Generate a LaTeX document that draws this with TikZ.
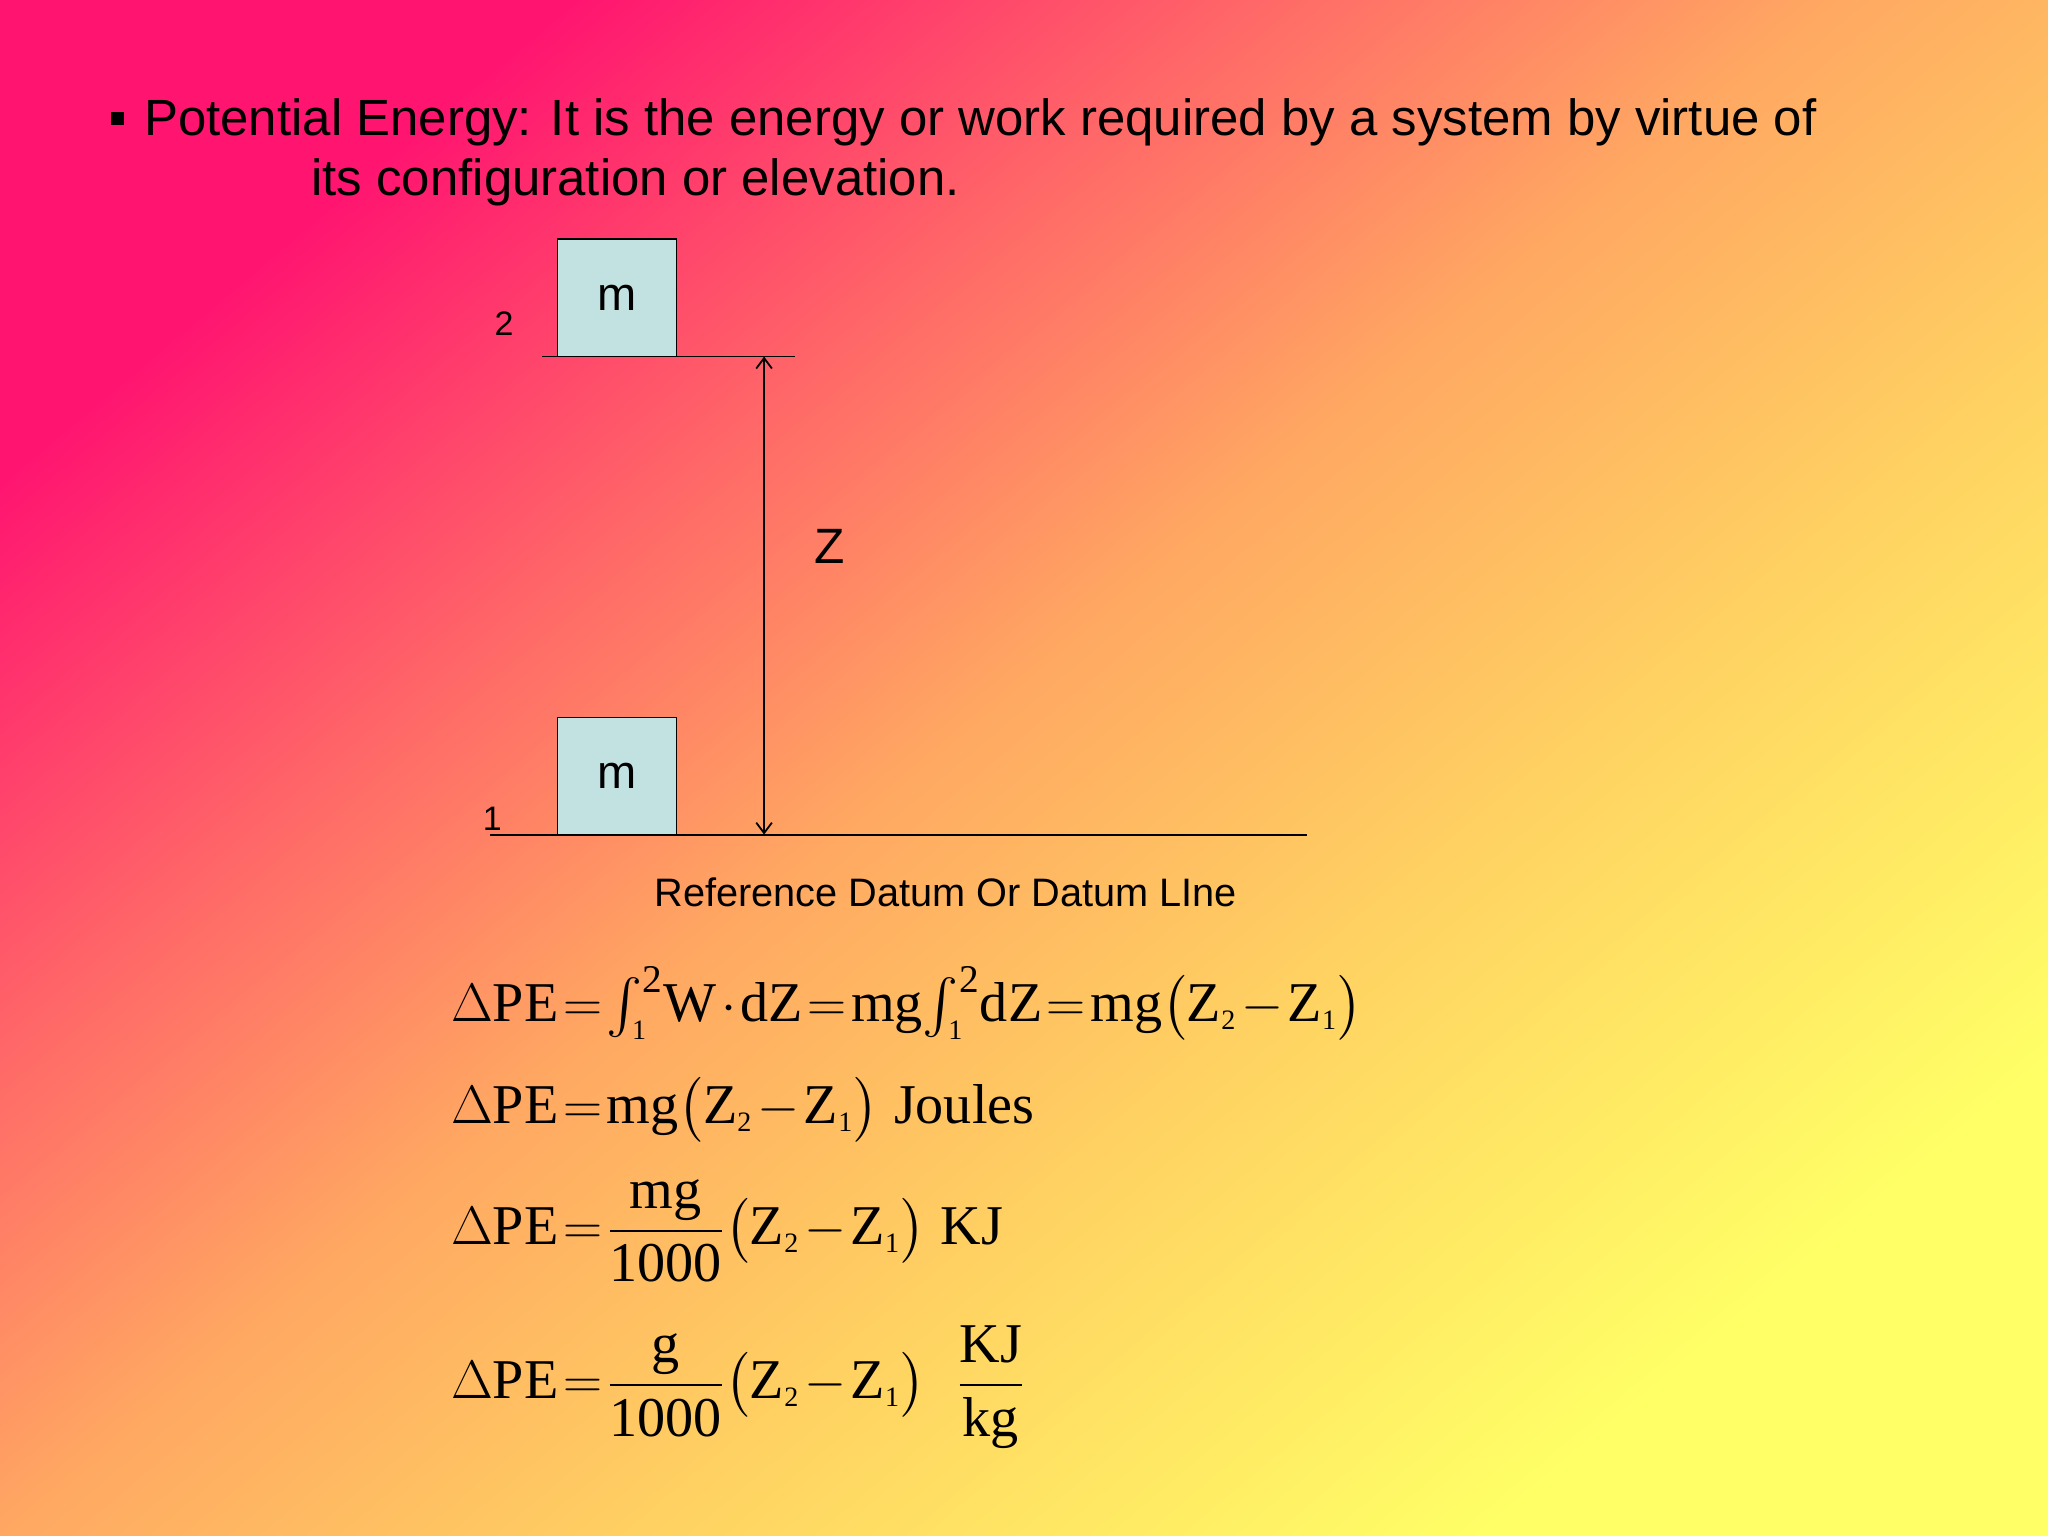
\documentclass[tikz,border=0pt]{standalone}
\usepackage{amsmath}
\usepackage{fontspec}
\setmainfont{Liberation Sans}
\newfontfamily\tms{Liberation Serif}
\newcommand\tx[1]{\text{\tms #1}}
\newcommand\sbx[1]{_{\scriptscriptstyle\tx{#1}}}
\usetikzlibrary{arrows.meta}
\definecolor{pk}{HTML}{FF1470}
\definecolor{pk2}{HTML}{FF6468}
\definecolor{og}{HTML}{FFA862}
\definecolor{og2}{HTML}{FFD262}
\definecolor{yl}{HTML}{FFFF66}
\definecolor{bx}{HTML}{C2E2E2}
\pgfdeclareverticalshading{bgsh}{100bp}{color(0bp)=(yl); color(25bp)=(yl); color(40bp)=(og2); color(52bp)=(og); color(63bp)=(pk2); color(75bp)=(pk); color(100bp)=(pk)}
\tikzset{mass/.style={draw=black,fill=bx,minimum width=45.5pt,minimum height=45pt,inner sep=0pt,font=\fontsize{18}{20}\selectfont},
lab/.style={inner sep=0pt,font=\fontsize{13}{15}\selectfont},
eq/.style={anchor=base west,inner sep=0pt,font=\fontsize{21.5}{26}\selectfont}}
\thickmuskip=1.5mu
\medmuskip=1.5mu
\begin{document}
\begin{tikzpicture}[x=0.5pt,y=-0.5pt]
\shade[shading=bgsh,shading angle=40] (0,0) rectangle (1568,1176);
\useasboundingbox (0,0) rectangle (1568,1176);
\fill (85,86) rectangle (95,96);
\node[anchor=base west,inner sep=0pt,font=\fontsize{19.5}{22}\selectfont] (t1) at (110,104) {Potential Energy: It is the energy or work required by a system by virtue of};
\node[anchor=base west,inner sep=0pt,font=\fontsize{19.5}{22}\selectfont] (t2) at (238,150) {its configuration or elevation.};
\node[mass] (m2) at (472.5,228) {m};
\node[mass] (m1) at (472.5,594) {m};
\node[lab] (l2) at (386,248) {2};
\node[lab] (l1) at (377,627) {1};
\coordinate (a) at (415,273); \coordinate (b) at (609,273);
\coordinate (c) at (375,639); \coordinate (d) at (1001,639);
\coordinate (p) at (585,273); \coordinate (q) at (585,639);
\draw[line width=0.7pt] (a) -- (b);
\draw[line width=0.7pt] (c) -- (d);
\draw[line width=0.7pt,{Straight Barb[length=4pt,width=6pt]}-{Straight Barb[length=4pt,width=6pt]}] (p) -- (q);
\node[inner sep=0pt,font=\fontsize{19}{20}\selectfont] (z) at (635,418) {Z};
\node[inner sep=0pt,font=\fontsize{15.2}{16}\selectfont] (ref) at (724,683) {Reference Datum Or Datum LIne};
\node[eq] (e1) at (345,782) {$\Delta\tx{PE}=\int\sbx{1}^{\tx{2}}\! \tx{W}\cdot \tx{dZ}=\tx{mg}\!\int\sbx{1}^{\tx{2}}\!\tx{dZ}=\tx{mg}\bigl(\tx{Z}\sbx{2}-\tx{Z}\sbx{1}\bigr)$};
\node[eq] (e2) at (345,860) {$\Delta\tx{PE}=\tx{mg}\bigl(\tx{Z}\sbx{2}-\tx{Z}\sbx{1}\bigr)\ \tx{Joules}$};
\node[eq] (e3) at (345,953) {$\Delta\tx{PE}=\dfrac{\tx{mg}}{\tx{1000}}\bigl(\tx{Z}\sbx{2}-\tx{Z}\sbx{1}\bigr)\ \tx{KJ}$};
\node[eq] (e4) at (345,1071) {$\Delta\tx{PE}=\dfrac{\tx{g}}{\tx{1000}}\bigl(\tx{Z}\sbx{2}-\tx{Z}\sbx{1}\bigr)\ \ \dfrac{\tx{KJ}}{\tx{kg}}$};
\end{tikzpicture}
\end{document}
